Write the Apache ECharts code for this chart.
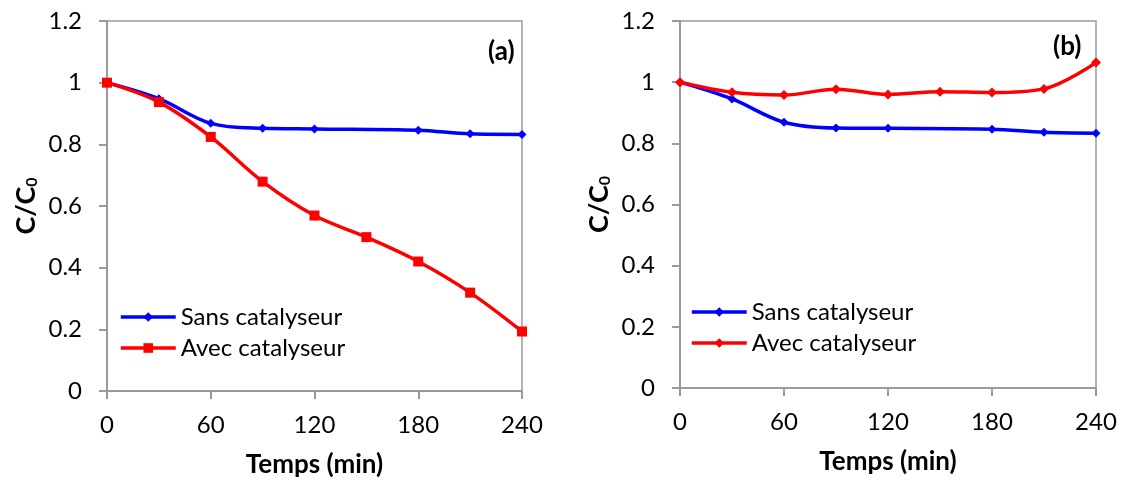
<!DOCTYPE html>
<html>
<head>
<meta charset="utf-8">
<script src="https://cdn.jsdelivr.net/npm/echarts@6/dist/echarts.min.js"></script>
<style>
html,body{margin:0;padding:0;background:#fff;}
#c{width:1123px;height:483px;}
</style>
</head>
<body>
<div id="c"></div>
<script>
// ---- data ----
const timeSans = [0, 30, 60, 90, 120, 180, 210, 240];
const timeAvec = [0, 30, 60, 90, 120, 150, 180, 210, 240];
const aSans = [1.0, 0.948, 0.868, 0.852, 0.850, 0.846, 0.834, 0.832];
const aAvec = [1.0, 0.937, 0.824, 0.679, 0.569, 0.499, 0.420, 0.319, 0.193];
const bSans = [1.0, 0.945, 0.869, 0.850, 0.849, 0.846, 0.836, 0.833];
const bAvec = [1.0, 0.967, 0.958, 0.977, 0.960, 0.969, 0.966, 0.978, 1.064];
const seriesLabels = {aSans: 'Sans catalyseur', aAvec: 'Avec catalyseur', bSans: 'Sans catalyseur', bAvec: 'Avec catalyseur'};
const panelTags = ['(a)', '(b)'];
const xTitle = 'Temps (min)';

function pairs(xs, ys) { return xs.map((x, i) => [x, ys[i]]); }

const FONT = 'Lato';
const AXIS_COLOR = '#9a9a9a';

function xAxis(gi) {
  return {
    type: 'value', gridIndex: gi, min: 0, max: 240, interval: 60,
    name: xTitle, nameLocation: 'middle', nameGap: 61,
    nameTextStyle: {fontFamily: FONT, fontSize: 26, fontWeight: 'bold', color: '#000'},
    axisLine: {show: true, lineStyle: {color: AXIS_COLOR, width: 2}},
    axisTick: {show: true, length: 8, inside: false, lineStyle: {color: AXIS_COLOR, width: 2}},
    axisLabel: {fontFamily: FONT, fontSize: 24, color: '#000', margin: 22},
    splitLine: {show: false}
  };
}
function yAxis(gi) {
  return {
    type: 'value', gridIndex: gi, min: 0, max: 1.2, interval: 0.2,
    name: '{m|C/C}{s|0}', nameLocation: 'middle', nameGap: 67, nameRotate: 90,
    nameTextStyle: {
      rich: {
        m: {fontFamily: FONT, fontSize: 27, fontWeight: 'bold', color: '#000'},
        s: {fontFamily: FONT, fontSize: 16, fontWeight: 'bold', color: '#000', verticalAlign: 'bottom', padding: [12, 0, 0, 0]}
      }
    },
    axisLine: {show: true, lineStyle: {color: AXIS_COLOR, width: 2}},
    axisTick: {show: true, length: 8, inside: false, lineStyle: {color: AXIS_COLOR, width: 2}},
    axisLabel: {fontFamily: FONT, fontSize: 24, color: '#000', margin: 25,
      formatter: v => String(+v.toFixed(1))},
    splitLine: {show: false}
  };
}
function lineSeries(id, gi, xs, ys, color, symbol, size) {
  return {
    id: id, name: id, type: 'line', xAxisIndex: gi, yAxisIndex: gi,
    data: pairs(xs, ys), smooth: 0.35,
    symbol: symbol, symbolSize: size, showSymbol: true,
    lineStyle: {color: color, width: 3.5},
    itemStyle: {color: color},
    z: id.indexOf('Avec') >= 0 ? 3 : 2,
    animation: false
  };
}
function legend(left, top, names) {
  return {
    orient: 'vertical', left: left, top: top,
    data: names,
    itemWidth: 55, itemHeight: 12, itemGap: 7,
    lineStyle: {width: 3.5},
    formatter: n => seriesLabels[n],
    textStyle: {fontFamily: FONT, fontSize: 24, color: '#000', lineHeight: 24, padding: [0, 0, 0, 0]},
    selectedMode: false
  };
}

const option = {
  backgroundColor: '#fff',
  animation: false,
  title: [
    {text: panelTags[0], left: 483, top: 34, textStyle: {fontFamily: FONT, fontSize: 26, fontWeight: 'bold', color: '#000'}},
    {text: panelTags[1], left: 1048, top: 29, textStyle: {fontFamily: FONT, fontSize: 26, fontWeight: 'bold', color: '#000'}}
  ],
  grid: [
    {left: 107, right: 1123 - 522, top: 21, bottom: 483 - 392, show: true, borderColor: AXIS_COLOR, borderWidth: 1.5},
    {left: 680, right: 1123 - 1096, top: 21, bottom: 483 - 388, show: true, borderColor: AXIS_COLOR, borderWidth: 1.5}
  ],
  xAxis: [xAxis(0), xAxis(1)],
  yAxis: [yAxis(0), yAxis(1)],
  legend: [
    legend(114, 300, ['aSans', 'aAvec']),
    legend(685, 295, ['bSans', 'bAvec'])
  ],
  series: [
    lineSeries('aSans', 0, timeSans, aSans, '#0000ff', 'diamond', 9),
    lineSeries('aAvec', 0, timeAvec, aAvec, '#ff0000', 'rect', 10),
    lineSeries('bSans', 1, timeSans, bSans, '#0000ff', 'diamond', 9),
    lineSeries('bAvec', 1, timeAvec, bAvec, '#ff0000', 'diamond', 10)
  ]
};
const chart = echarts.init(document.getElementById('c'), null, {renderer: 'canvas'});
chart.setOption(option);
</script>
</body>
</html>
